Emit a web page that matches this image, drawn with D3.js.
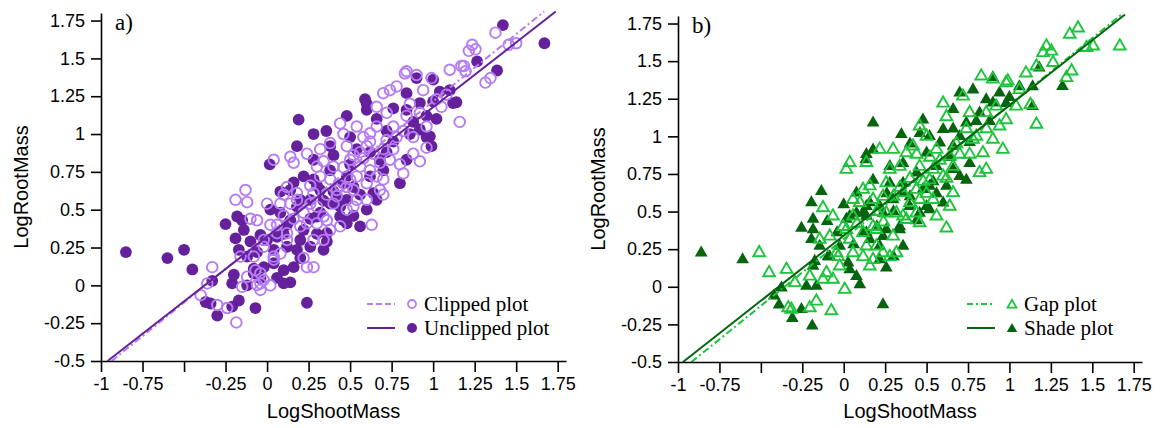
<!DOCTYPE html>
<html lang='en'>
	<head>
		<title>LogRootMass vs LogShootMass</title>
		<script type='text/javascript' src='https://cdn.jsdelivr.net/npm/d3@7/dist/d3.min.js'></script>
		<style>
			body { margin: 0; background: #fff; }
		</style>
	</head>
	<body>
		<script type='text/javascript'>
		// ---- data ----
		var xTicks = [-1, -0.75, -0.5, -0.25, 0, 0.25, 0.5, 0.75, 1, 1.25, 1.5, 1.75];
		var xTickLabels = ['-1', '-0.75', '', '-0.25', '0', '0.25', '0.5', '0.75', '1', '1.25', '1.5', '1.75'];
		var yTicks = [-0.5, -0.25, 0, 0.25, 0.5, 0.75, 1, 1.25, 1.5, 1.75];
		var yTickLabels = ['-0.5', '-0.25', '0', '0.25', '0.5', '0.75', '1', '1.25', '1.5', '1.75'];
		var seriesNames = ['Clipped plot', 'Unclipped plot', 'Gap plot', 'Shade plot'];

		// fitted lines [intercept, slope]
		var fitClipped = [0.33, 0.887];
		var fitUnclipped = [0.322, 0.856];
		var fitGap = [0.318, 0.89];
		var fitShade = [0.34, 0.866];

		var clipped = [
			[-0.33,0.12],[-0.40,-0.065],[-0.36,0.013],[-0.30,-0.13],[-0.24,-0.15],[-0.185,-0.245],[-0.13,0.63],[-0.19,0.565],
			[-0.12,0.55],[-0.10,0.44],[-0.06,0.43],[0,0.54],[0.04,0.83],[0.14,0.85],[0.16,0.81],[-0.04,0.013],[0.02,0.0],
			[-0.12,0.057],[-0.16,0.19],[-0.07,0.10],[0.04,0.19],[-0.02,0.30],[0.08,0.54],[0.06,0.345],[0.12,0.65],
			[-0.15,-0.01],[-0.06,0.002],[-0.02,0.035],[-0.04,0.08],[-0.08,0.19],[-0.02,0.255],[0.08,0.21],[0.24,0.12],
			[0.28,0.12],[0.22,0.18],[0.34,0.30],[0.12,0.345],[0.02,0.40],[0.10,0.60],[0.18,0.61],[0.14,0.54],[0.26,0.54],
			[0.24,0.41],[0.36,0.43],[0.38,0.366],[0.42,0.63],[0.52,0.52],[0.52,0.63],[0.30,0.41],[0.04,0.17],[-0.04,-0.03],
			[0.83,1.40],[0.90,1.39],[0.99,1.37],[1.10,1.425],[1.17,1.45],[1.16,1.08],[0.96,0.91],[0.82,0.74],[0.63,0.40],
			[0.74,1.29],[0.70,1.27],[0.78,1.315],[0.94,1.29],[1.02,1.23],[0.66,1.18],[0.72,1.14],[0.84,1.12],[0.96,1.05],
			[0.88,0.98],[0.78,0.98],[0.66,1.05],[0.58,0.98],[0.60,0.92],[0.64,0.87],[0.54,1.05],[0.44,1.07],[0.46,1.0],
			[0.48,0.92],[0.38,0.94],[0.32,0.90],[0.24,0.87],[0.30,0.785],[0.40,0.785],[0.50,0.83],[0.56,0.785],[0.68,0.81],
			[0.74,0.83],[0.88,0.87],[0.38,0.70],[0.48,0.65],[0.60,0.675],[0.70,0.70],[0.28,0.61],[0.18,0.565],[0.40,0.54],
			[0.54,0.565],[0.68,0.63],[0.34,0.455],[0.20,0.39],[0.44,0.39],[0.12,0.30],[0.28,0.30],[0.48,0.50],[0.60,0.565],
			[0.54,0.72],[0.42,0.59],[0.62,1.005],[1.375,1.67],[1.455,1.59],[1.50,1.60],[1.235,1.59],[1.215,1.55],
			[1.255,1.56],[1.185,1.45],[1.195,1.415],[1.315,1.34],[1.345,1.37],[0.84,1.415],
			[0.56,0.88],[0.62,0.76],[0.66,0.72],[0.52,0.86],[0.58,0.84],[0.70,0.90],[0.72,0.96],[0.62,0.95],[0.50,0.70],
			[0.44,0.66],[0.36,0.60],[0.30,0.52],[0.22,0.48],[0.16,0.44],[0.10,0.46],[0.06,0.40],[0.26,0.66],[0.32,0.72],
			[0.46,0.78],[0.76,1.05],[0.82,1.02],[0.86,1.20],[0.92,1.14],[1.05,1.18],[1.08,1.26],[0.70,0.60],[0.76,0.90],
			[0.80,0.80],[0.92,0.82],[0.34,0.82]
		];
		var unclipped = [
			[-0.85,0.22],[-0.60,0.18],[-0.50,0.235],[-0.45,0.105],[-0.37,-0.11],[-0.34,-0.12],[-0.30,-0.20],[-0.33,0.03],
			[-0.25,0.405],[-0.18,0.455],[-0.19,0.31],[-0.17,0.235],[-0.21,0.013],[-0.20,0.07],[-0.17,-0.10],[-0.21,-0.14],
			[-0.07,-0.15],[-0.08,0.11],[-0.04,0.046],[-0.12,0.19],[-0.08,0.08],[0.10,0.013],[0.04,0.146],[0.10,0.10],
			[0.16,0.12],[0.20,0.18],[0.08,0.62],[0.02,0.50],[0,0.30],[0.04,0.235],[0.12,0.255],[0.18,0.235],[0.26,0.255],
			[0.34,0.235],[0.36,0.29],[0.22,0.366],[0.30,0.455],[0.38,0.54],[0.46,0.675],[0.22,0.72],[0.28,0.70],[0.46,0.43],
			[0.18,0.52],[-0.04,0.333],[-0.15,0.43],[-0.14,0.366],[-0.10,0.29],[0.06,0.32],[0.12,0.40],[0.08,0.48],
			[0.26,0.565],[0.32,0.63],[0.42,0.59],[0.24,-0.115],[0.016,0.80],[0.19,1.095],[0.18,0.92],[0.357,1.02],
			[0.48,1.12],[0.60,1.16],[0.60,1.2],[0.90,1.37],[1.12,1.205],[1.14,1.21],[0.76,1.17],[0.84,1.27],[0.96,0.98],
			[0.99,0.92],[0.68,0.83],[0.84,0.83],[0.80,0.675],[0.66,0.565],[0.64,0.61],[0.48,0.72],[0.52,0.65],[0.38,0.92],
			[0.28,1.0],[0.28,0.83],[0.38,0.76],[0.48,0.565],[0.60,0.50],[0.44,0.455],[0.32,0.48],[0.20,0.565],[0.14,0.63],
			[0.36,0.345],[0.14,0.43],[0.48,0.41],[0.56,0.39],[1.42,1.72],[1.67,1.60],[1.265,1.48],[1.385,1.42],[1.10,1.29],
			[1.04,1.28],[1.0,1.215],[0.92,1.205],[0.96,1.12],[0.84,1.16],[0.92,1.03],[0.98,0.985],[1.0,1.36],[0.59,1.23],
			[0.50,0.98],[0.54,0.90],[0.62,0.88],[0.66,1.10],[0.72,1.02],[0.56,0.60],[0.40,0.62],[0.34,0.56],[0.26,0.44],
			[0.20,0.30],[0.10,0.34],[0.30,0.34],[0.44,0.52],[0.52,0.46],[0.70,0.76],[0.76,0.95],[0.88,1.08],[0.40,0.86],
			[0.30,0.66],[0.16,0.68],[-0.06,0.22],[-0.02,0.12],[0.06,0.05],[0.14,0.02],[-0.12,0.0],[0.50,0.80],[0.62,0.72],
			[0.72,0.88],[0.86,1.00],[1.02,1.10]
		];
		var gap = [
			[-0.51,0.226],[-0.45,0.093],[-0.345,0.115],[-0.295,0.027],[-0.335,-0.14],[-0.165,-0.096],[-0.075,-0.16],
			[-0.205,-0.14],[-0.125,0.525],[0.036,0.825],[0.016,0.78],[0.137,0.825],[-0.145,0.315],[-0.065,0.47],
			[-0.004,0.40],[0.036,0.315],[-0.044,0.226],[-0.104,0.093],[-0.065,0.049],[0.006,-0.018],[-0.205,0.07],
			[0.056,0.58],[0.117,0.647],[0.117,0.36],[0.177,0.18],[-0.316,-0.15],[-0.125,0.049],[-0.034,0.20],
			[-0.084,0.336],[0.016,0.38],[0.056,0.226],[0.117,0.20],[0.157,0.137],[0.197,0.27],[0.278,0.20],[0.318,0.226],
			[0.097,0.56],[0.056,0.47],[0.237,0.60],[0.318,0.49],[0.378,0.447],[0.438,0.49],[0.458,0.58],[0.518,0.71],
			[0.197,0.38],[0.278,0.78],[-0.024,0.137],[0.83,1.40],[0.98,1.356],[1.10,1.42],[1.163,1.467],[1.127,1.21],
			[1.163,1.08],[0.96,0.913],[0.82,0.758],[0.62,0.39],[0.60,1.22],[0.72,1.267],[0.62,1.13],[0.76,1.157],
			[0.86,1.157],[0.94,1.068],[0.90,0.98],[0.98,1.11],[0.78,0.98],[0.458,1.068],[0.50,1.0],[0.418,0.935],
			[0.56,0.913],[0.64,0.868],[0.66,0.80],[0.84,0.89],[0.217,0.913],[0.298,0.913],[0.378,0.89],[0.338,0.80],
			[0.458,0.80],[0.539,0.78],[0.60,0.735],[0.86,0.78],[0.157,0.67],[0.257,0.69],[0.358,0.625],[0.438,0.647],
			[0.539,0.58],[0.66,0.625],[0.177,0.58],[0.257,0.49],[0.358,0.47],[0.458,0.425],[0.56,0.47],[0.64,0.535],
			[0.177,0.40],[0.298,0.336],[0.137,0.27],[0.237,0.226],[0.80,1.0],[1.364,1.678],[1.414,1.72],[1.465,1.59],
			[1.505,1.60],[1.666,1.60],[1.223,1.60],[1.203,1.556],[1.253,1.566],[1.263,1.49],[1.344,1.39],[1.375,1.434],
			[0.90,1.38],[0.99,1.367],[1.06,1.31],
			[0.40,0.72],[0.48,0.70],[0.52,0.86],[0.58,0.84],[0.68,0.95],[0.70,0.88],[0.74,1.05],[0.86,1.05],[0.30,0.60],
			[0.24,0.43],[0.40,0.56],[0.50,0.62],[0.62,0.72],[0.08,0.42],[0.20,0.50],[0.34,0.66],[0.44,0.88],[0.92,1.20],
			[1.04,1.20],[0.76,0.88]
		];
		var shade = [
			[-0.86,0.226],[-0.61,0.18],[-0.42,-0.06],[-0.39,-0.12],[-0.31,-0.21],[-0.255,-0.15],[-0.19,-0.26],[-0.255,0.39],
			[-0.195,0.56],[-0.135,0.635],[-0.185,0.45],[-0.185,0.38],[-0.10,0.435],[-0.195,0.315],[-0.145,0.27],
			[-0.185,0.137],[-0.225,0.004],[-0.165,0.004],[-0.095,0.20],[0,0.547],[0.026,0.16],[0.077,0.07],[0.097,0.015],
			[0.133,0.846],[0.177,1.09],[0.177,0.91],[0.177,0.71],[0.077,0.625],[0.077,0.49],[0.016,0.45],[0.137,0.535],
			[0.157,0.315],[-0.376,-0.007],[-0.175,0.17],[0.237,-0.118],[0.036,0.47],[0.137,0.47],[0.157,0.56],[0.237,0.49],
			[0.117,0.36],[0.257,0.38],[0.338,0.38],[0.358,0.27],[0.217,0.18],[0.257,0.126],[0.036,0.115],[-0.084,0.20],
			[-0.024,0.27],[0.278,0.69],[0.398,0.535],[0.478,0.647],[0.518,0.514],[0.358,0.625],[0.348,1.013],[0.278,0.80],
			[0.358,0.82],[0.478,1.11],[0.518,1.0],[0.70,1.29],[0.78,1.31],[0.66,1.18],[0.90,1.39],[0.94,1.29],[0.98,1.22],
			[1.06,1.33],[1.14,1.33],[1.14,1.20],[0.86,1.245],[0.82,1.157],[0.74,1.09],[0.60,1.046],[0.58,0.957],[0.66,0.935],
			[0.70,1.0],[0.76,0.82],[0.70,0.735],[0.74,0.71],[0.50,0.89],[0.44,0.758],[0.358,0.69],[0.298,0.58],[0.217,0.535],
			[0.50,0.535],[0.60,0.558],[0.518,0.67],[0.62,0.67],[0.117,0.49],[0.137,0.36],[0.237,0.336],[0.338,0.40],
			[0.458,0.49],[0.217,0.27],[0.137,0.88],[1.32,1.333],[1.18,1.456],[0.90,1.223],
			[0.40,0.95],[0.46,1.02],[0.56,0.80],[0.64,0.86],[0.54,0.70],[0.40,0.60],[0.30,0.50],[0.26,0.62],[0.66,1.05],
			[0.80,1.10],[0.88,1.10],[1.00,1.26],[0.30,0.20],[0.06,0.28],[-0.04,0.36],[0.20,0.40],[0.44,0.44],[0.56,0.62],
			[0.76,0.96],[0.66,0.78]
		];

		// ---- drawing ----
		var width = 1163, height = 428;
		var svg = d3.select('body').append('svg').attr('width', width).attr('height', height)
			.style('font-family', '"Liberation Sans", Arial, sans-serif');
		svg.append('rect').attr('width', width).attr('height', height).attr('fill', '#fff');

		var lightPurple = '#b67cf4', darkPurple = '#65209c';
		var lightGreen = '#1ec43c', darkGreen = '#04650e';

		function drawPanel(p) {
			var g = svg.append('g');
			var x = d3.scaleLinear().domain([-1, 1.8]).range([p.left, p.right]);
			var y = d3.scaleLinear().domain([-0.5, 1.8]).range([p.bottom, p.top]);

			var xAxis = d3.axisBottom(x).tickValues(xTicks).tickSize(11).tickSizeOuter(0).tickPadding(5)
				.tickFormat((d, i) => xTickLabels[i]);
			var yAxis = d3.axisLeft(y).tickValues(yTicks).tickSize(10).tickSizeOuter(0).tickPadding(6)
				.tickFormat((d, i) => yTickLabels[i]);

			// markers
			var dark = g.append('g'), light = g.append('g');
			if (p.shape == 'circle') {
				dark.selectAll('circle').data(p.filled).enter().append('circle')
					.attr('cx', d => x(d[0])).attr('cy', d => y(d[1])).attr('r', 5.9)
					.attr('fill', p.darkColor);
				light.selectAll('circle').data(p.hollow).enter().append('circle')
					.attr('cx', d => x(d[0])).attr('cy', d => y(d[1])).attr('r', 5.3)
					.attr('fill', 'none').attr('stroke', p.lightColor).attr('stroke-width', 1.9);
			} else {
				var tri = d3.symbol().type(d3.symbolTriangle).size(70);
				var triH = d3.symbol().type(d3.symbolTriangle).size(60);
				dark.selectAll('path').data(p.filled).enter().append('path')
					.attr('d', tri).attr('transform', d => 'translate(' + x(d[0]) + ',' + y(d[1]) + ')')
					.attr('fill', p.darkColor);
				light.selectAll('path').data(p.hollow).enter().append('path')
					.attr('d', triH).attr('transform', d => 'translate(' + x(d[0]) + ',' + y(d[1]) + ')')
					.attr('fill', 'none').attr('stroke', p.lightColor).attr('stroke-width', 1.9);
			}

			// fitted lines, clipped to the axis box
			function fitLine(fit, color, dash) {
				var ylo = -0.5, yhi = 1.81;
				var x0 = Math.max(-1, (ylo - fit[0]) / fit[1]);
				var x1 = Math.min(1.8, (yhi - fit[0]) / fit[1]);
				g.append('line')
					.attr('x1', x(x0)).attr('y1', y(fit[0] + fit[1] * x0))
					.attr('x2', x(x1)).attr('y2', y(fit[0] + fit[1] * x1))
					.attr('stroke', color).attr('stroke-width', 2)
					.attr('stroke-dasharray', dash);
			}
			fitLine(p.fitLight, p.lightColor, p.dash);
			fitLine(p.fitDark, p.darkColor, null);

			// axes
			var gx = g.append('g').attr('transform', 'translate(0,' + p.bottom + ')').call(xAxis);
			var gy = g.append('g').attr('transform', 'translate(' + p.left + ',0)').call(yAxis);
			[gx, gy].forEach(a => {
				a.select('.domain').attr('stroke', '#000').attr('stroke-width', 1.6);
				a.selectAll('.tick line').attr('stroke', '#000').attr('stroke-width', 1.6);
				a.selectAll('.tick text').attr('fill', '#000').style('font-size', '18px')
					.style('font-family', '"Liberation Sans", Arial, sans-serif');
			});

			// axis titles
			g.append('text').attr('x', (p.left + p.right) / 2).attr('y', 418)
				.attr('text-anchor', 'middle').style('font-size', '20px').text('LogShootMass');
			g.append('text').attr('transform', 'translate(' + (p.left - 73) + ',' + ((p.top + p.bottom) / 2) + ') rotate(-90)')
				.attr('text-anchor', 'middle').style('font-size', '20px').text('LogRootMass');

			// panel letter
			g.append('text').attr('x', p.left + 14).attr('y', p.top + 17)
				.style('font-family', '"Liberation Serif", "Times New Roman", serif').style('font-size', '23px')
				.text(p.letter);

			// legend
			var lg = g.append('g').attr('transform', 'translate(' + p.legendX + ',304)')
				.style('font-family', '"Liberation Serif", "Times New Roman", serif').style('font-size', '21px');
			var rows = [
				{name: p.names[0], color: p.lightColor, dash: p.legendDash, hollow: true},
				{name: p.names[1], color: p.darkColor, dash: null, hollow: false}
			];
			rows.forEach((r, i) => {
				var ry = i * 24;
				lg.append('line').attr('x1', 0).attr('x2', 28).attr('y1', ry).attr('y2', ry)
					.attr('stroke', r.color).attr('stroke-width', 2).attr('stroke-dasharray', r.dash);
				if (p.shape == 'circle') {
					lg.append('circle').attr('cx', 45).attr('cy', ry).attr('r', r.hollow ? 4 : 5)
						.attr('fill', r.hollow ? 'none' : r.color).attr('stroke', r.hollow ? r.color : 'none')
						.attr('stroke-width', 1.8);
				} else {
					lg.append('path').attr('d', d3.symbol().type(d3.symbolTriangle).size(r.hollow ? 34 : 48))
						.attr('transform', 'translate(45,' + (ry + 1) + ')')
						.attr('fill', r.hollow ? 'none' : r.color).attr('stroke', r.hollow ? r.color : 'none')
						.attr('stroke-width', 1.8);
				}
				lg.append('text').attr('x', 57).attr('y', ry + 7).text(r.name);
			});
		}

		drawPanel({
			left: 101, right: 566, top: 13, bottom: 361, letter: 'a)', shape: 'circle',
			hollow: clipped, filled: unclipped, lightColor: lightPurple, darkColor: darkPurple,
			fitLight: fitClipped, fitDark: fitUnclipped, dash: '7,3,2,3', legendDash: '6,3',
			names: [seriesNames[0], seriesNames[1]], legendX: 367
		});
		drawPanel({
			left: 678, right: 1142, top: 16, bottom: 362, letter: 'b)', shape: 'triangle',
			hollow: gap, filled: shade, lightColor: lightGreen, darkColor: darkGreen,
			fitLight: fitGap, fitDark: fitShade, dash: '7,3,2,3', legendDash: '6,3,2,3',
			names: [seriesNames[2], seriesNames[3]], legendX: 967
		});
		</script>
	</body>
</html>
